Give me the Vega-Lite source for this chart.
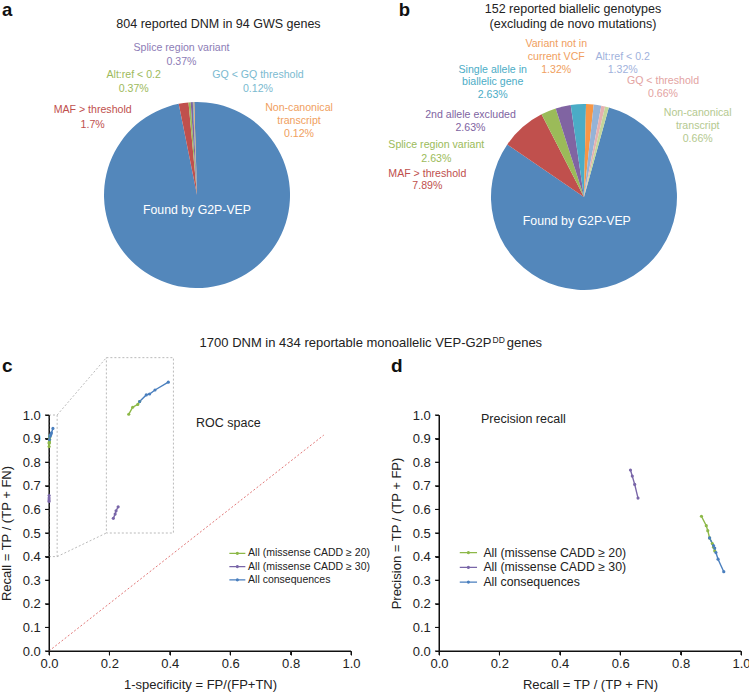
{
"$schema": "https://vega.github.io/schema/vega-lite/v6.json",
"padding": 0,
"bounds": "flush",
"spacing": 0,
"config": {
  "font": "Liberation Sans",
  "view": {"stroke": null},
  "axis": {"labelFontSize": 13, "titleFontSize": 13, "titleFontWeight": "normal", "labelColor": "#222", "titleColor": "#222", "domainColor": "#111", "tickColor": "#111", "tickSize": 4, "grid": false, "labelFlush": false, "labelOverlap": false},
  "axisX": {"labelPadding": 2, "titlePadding": 8.3},
  "axisY": {"labelPadding": 4.7, "titlePadding": 8.5},
  "legend": {"labelColor": "#222"}
},
"resolve": {"scale": {"color": "independent"}, "legend": {"color": "independent"}},
"datasets": {
  "pieA": [
    {"cause": "Found by G2P-VEP", "pct": 97.32},
    {"cause": "MAF > threshold", "pct": 1.7},
    {"cause": "Alt:ref < 0.2", "pct": 0.37},
    {"cause": "Splice region variant", "pct": 0.37},
    {"cause": "GQ < GQ threshold", "pct": 0.12},
    {"cause": "Non-canonical transcript", "pct": 0.12}
  ],
  "pieB": [
    {"cause": "Found by G2P-VEP", "pct": 80.26},
    {"cause": "MAF > threshold", "pct": 7.89},
    {"cause": "Splice region variant", "pct": 2.63},
    {"cause": "2nd allele excluded", "pct": 2.63},
    {"cause": "Single allele in biallelic gene", "pct": 2.63},
    {"cause": "Variant not in current VCF", "pct": 1.32},
    {"cause": "Alt:ref < 0.2", "pct": 1.32},
    {"cause": "GQ < threshold", "pct": 0.66},
    {"cause": "Non-canonical transcript", "pct": 0.66}
  ],
  "xticks": [{"v": 0}, {"v": 0.2}, {"v": 0.4}, {"v": 0.6}, {"v": 0.8}, {"v": 1}],
  "yticks": [{"v": 0}, {"v": 0.1}, {"v": 0.2}, {"v": 0.3}, {"v": 0.4}, {"v": 0.5}, {"v": 0.6}, {"v": 0.7}, {"v": 0.8}, {"v": 0.9}, {"v": 1}],
  "roc": [
    {"series": "All (missense CADD ≥ 20)", "x": 0.0004, "y": 0.866},
    {"series": "All (missense CADD ≥ 20)", "x": 0.0008, "y": 0.880},
    {"series": "All (missense CADD ≥ 20)", "x": 0.0010, "y": 0.885},
    {"series": "All (missense CADD ≥ 20)", "x": 0.0013, "y": 0.890},
    {"series": "All (missense CADD ≥ 20)", "x": 0.0018, "y": 0.896},
    {"series": "All (missense CADD ≥ 20)", "x": 0.0022, "y": 0.905},
    {"series": "All (missense CADD ≥ 20)", "x": 0.0025, "y": 0.909},
    {"series": "All (missense CADD ≥ 20)", "x": 0.0028, "y": 0.913},
    {"series": "All (missense CADD ≥ 30)", "x": 0.0001, "y": 0.634},
    {"series": "All (missense CADD ≥ 30)", "x": 0.0002, "y": 0.640},
    {"series": "All (missense CADD ≥ 30)", "x": 0.0003, "y": 0.648},
    {"series": "All (missense CADD ≥ 30)", "x": 0.0005, "y": 0.659},
    {"series": "All consequences", "x": 0.0015, "y": 0.896},
    {"series": "All consequences", "x": 0.0030, "y": 0.909},
    {"series": "All consequences", "x": 0.0040, "y": 0.913},
    {"series": "All consequences", "x": 0.0060, "y": 0.917},
    {"series": "All consequences", "x": 0.0080, "y": 0.924},
    {"series": "All consequences", "x": 0.0130, "y": 0.943}
  ],
  "rocZoom": [
    {"series": "All (missense CADD ≥ 20)", "x": 0.264, "y": 1.003},
    {"series": "All (missense CADD ≥ 20)", "x": 0.277, "y": 1.033},
    {"series": "All (missense CADD ≥ 20)", "x": 0.294, "y": 1.045},
    {"series": "All (missense CADD ≥ 20)", "x": 0.300, "y": 1.057},
    {"series": "All (missense CADD ≥ 30)", "x": 0.213, "y": 0.562},
    {"series": "All (missense CADD ≥ 30)", "x": 0.219, "y": 0.580},
    {"series": "All (missense CADD ≥ 30)", "x": 0.222, "y": 0.594},
    {"series": "All (missense CADD ≥ 30)", "x": 0.229, "y": 0.611},
    {"series": "All consequences", "x": 0.300, "y": 1.057},
    {"series": "All consequences", "x": 0.322, "y": 1.085},
    {"series": "All consequences", "x": 0.333, "y": 1.089},
    {"series": "All consequences", "x": 0.351, "y": 1.106},
    {"series": "All consequences", "x": 0.395, "y": 1.139}
  ],
  "pr": [
    {"series": "All (missense CADD ≥ 20)", "x": 0.869, "y": 0.571},
    {"series": "All (missense CADD ≥ 20)", "x": 0.885, "y": 0.531},
    {"series": "All (missense CADD ≥ 20)", "x": 0.890, "y": 0.510},
    {"series": "All (missense CADD ≥ 20)", "x": 0.896, "y": 0.479},
    {"series": "All (missense CADD ≥ 20)", "x": 0.905, "y": 0.455},
    {"series": "All (missense CADD ≥ 20)", "x": 0.909, "y": 0.440},
    {"series": "All (missense CADD ≥ 20)", "x": 0.913, "y": 0.424},
    {"series": "All (missense CADD ≥ 30)", "x": 0.634, "y": 0.767},
    {"series": "All (missense CADD ≥ 30)", "x": 0.640, "y": 0.741},
    {"series": "All (missense CADD ≥ 30)", "x": 0.648, "y": 0.706},
    {"series": "All (missense CADD ≥ 30)", "x": 0.659, "y": 0.648},
    {"series": "All consequences", "x": 0.896, "y": 0.479},
    {"series": "All consequences", "x": 0.909, "y": 0.447},
    {"series": "All consequences", "x": 0.913, "y": 0.436},
    {"series": "All consequences", "x": 0.917, "y": 0.417},
    {"series": "All consequences", "x": 0.924, "y": 0.389},
    {"series": "All consequences", "x": 0.943, "y": 0.336}
  ]
},
"vconcat": [
  {
    "width": 692,
    "height": 415,
    "data": {"values": [{}]},
    "resolve": {"scale": {"theta": "independent", "color": "independent"}},
    "layer": [
      {
        "data": {"name": "pieA"},
        "transform": [{"stack": "pct", "groupby": [], "sort": [{"field": "pct", "order": "descending"}], "as": ["t0", "t1"]}],
        "mark": {"type": "arc", "outerRadius": 93},
        "encoding": {
          "theta": {"field": "t0", "type": "quantitative", "scale": {"domain": [0, 100], "range": [-0.03, 6.2532]}},
          "theta2": {"field": "t1"},
          "color": {"field": "cause", "type": "nominal", "legend": null,
            "scale": {"domain": ["Found by G2P-VEP", "MAF > threshold", "Alt:ref < 0.2", "Splice region variant", "GQ < GQ threshold", "Non-canonical transcript"],
                      "range": ["#5387bb", "#c0504d", "#9bbb59", "#8064a2", "#4bacc6", "#f79646"]}},
          "x": {"datum": 21.39, "type": "quantitative", "stack": false, "scale": {"domain": [0, 100]}, "axis": null},
          "y": {"datum": 46.99, "type": "quantitative", "stack": false, "scale": {"domain": [0, 100], "reverse": true}, "axis": null}
        }
      },
      {
        "data": {"name": "pieB"},
        "transform": [{"stack": "pct", "groupby": [], "sort": [{"field": "pct", "order": "descending"}], "as": ["t0", "t1"]}],
        "mark": {"type": "arc", "outerRadius": 93},
        "encoding": {
          "theta": {"field": "t0", "type": "quantitative", "scale": {"domain": [0, 100], "range": [0.2705, 6.5537]}},
          "theta2": {"field": "t1"},
          "color": {"field": "cause", "type": "nominal", "legend": null,
            "scale": {"domain": ["Found by G2P-VEP", "MAF > threshold", "Splice region variant", "2nd allele excluded", "Single allele in biallelic gene", "Variant not in current VCF", "Alt:ref < 0.2", "GQ < threshold", "Non-canonical transcript"],
                      "range": ["#5387bb", "#c0504d", "#9bbb59", "#8064a2", "#4bacc6", "#f79646", "#95b3d7", "#e6b0b0", "#c3d69b"]}},
          "x": {"datum": 77.31, "type": "quantitative", "stack": false, "scale": {"domain": [0, 100]}, "axis": null},
          "y": {"datum": 47.47, "type": "quantitative", "stack": false, "scale": {"domain": [0, 100], "reverse": true}, "axis": null}
        }
      },
      {"mark": {"type": "text", "text": "804 reported DNM in 94 GWS genes", "align": "center", "baseline": "alphabetic", "fontSize": 12.5, "color": "#222"},
       "encoding": {"x": {"datum": 24.49, "type": "quantitative", "scale": {"domain": [0, 100]}, "axis": null}, "y": {"datum": 6.82, "type": "quantitative", "scale": {"domain": [0, 100], "reverse": true}, "axis": null}}},
      {"mark": {"type": "text", "text": ["152 reported biallelic genotypes", "(excluding de novo mutations)"], "lineHeight": 15.5, "align": "center", "baseline": "alphabetic", "fontSize": 12.5, "color": "#222"},
       "encoding": {"x": {"datum": 75.72, "type": "quantitative", "scale": {"domain": [0, 100]}, "axis": null}, "y": {"datum": 3.13, "type": "quantitative", "scale": {"domain": [0, 100], "reverse": true}, "axis": null}}},
      {"mark": {"type": "text", "text": "a", "align": "left", "baseline": "alphabetic", "fontSize": 18.5, "fontWeight": "bold", "color": "#111"},
       "encoding": {"x": {"datum": -6.8, "type": "quantitative", "scale": {"domain": [0, 100]}, "axis": null}, "y": {"datum": 3.9, "type": "quantitative", "scale": {"domain": [0, 100], "reverse": true}, "axis": null}}},
      {"mark": {"type": "text", "text": "b", "align": "left", "baseline": "alphabetic", "fontSize": 18.5, "fontWeight": "bold", "color": "#111"},
       "encoding": {"x": {"datum": 50.53, "type": "quantitative", "scale": {"domain": [0, 100]}, "axis": null}, "y": {"datum": 3.9, "type": "quantitative", "scale": {"domain": [0, 100], "reverse": true}, "axis": null}}},
      {"mark": {"type": "text", "text": "c", "align": "left", "baseline": "alphabetic", "fontSize": 19, "fontWeight": "bold", "color": "#111"},
       "encoding": {"x": {"datum": -6.8, "type": "quantitative", "scale": {"domain": [0, 100]}, "axis": null}, "y": {"datum": 89.57, "type": "quantitative", "scale": {"domain": [0, 100], "reverse": true}, "axis": null}}},
      {"mark": {"type": "text", "text": "d", "align": "left", "baseline": "alphabetic", "fontSize": 19, "fontWeight": "bold", "color": "#111"},
       "encoding": {"x": {"datum": 49.42, "type": "quantitative", "scale": {"domain": [0, 100]}, "axis": null}, "y": {"datum": 89.57, "type": "quantitative", "scale": {"domain": [0, 100], "reverse": true}, "axis": null}}},
      {"mark": {"type": "text", "text": "1700 DNM in 434 reportable monoallelic VEP-G2P", "align": "right", "baseline": "alphabetic", "fontSize": 13, "color": "#222"},
       "encoding": {"x": {"datum": 63.95, "type": "quantitative", "scale": {"domain": [0, 100]}, "axis": null}, "y": {"datum": 83.69, "type": "quantitative", "scale": {"domain": [0, 100], "reverse": true}, "axis": null}}},
      {"mark": {"type": "text", "text": "DD", "align": "left", "baseline": "alphabetic", "fontSize": 8.5, "color": "#222"},
       "encoding": {"x": {"datum": 64.09, "type": "quantitative", "scale": {"domain": [0, 100]}, "axis": null}, "y": {"datum": 82.58, "type": "quantitative", "scale": {"domain": [0, 100], "reverse": true}, "axis": null}}},
      {"mark": {"type": "text", "text": "genes", "align": "left", "baseline": "alphabetic", "fontSize": 13, "color": "#222"},
       "encoding": {"x": {"datum": 66.14, "type": "quantitative", "scale": {"domain": [0, 100]}, "axis": null}, "y": {"datum": 83.69, "type": "quantitative", "scale": {"domain": [0, 100], "reverse": true}, "axis": null}}},
      {"mark": {"type": "text", "text": "Found by G2P-VEP", "align": "center", "baseline": "alphabetic", "fontSize": 12.3, "color": "#ffffff"},
       "encoding": {"x": {"datum": 21.39, "type": "quantitative", "scale": {"domain": [0, 100]}, "axis": null}, "y": {"datum": 51.52, "type": "quantitative", "scale": {"domain": [0, 100], "reverse": true}, "axis": null}}},
      {"mark": {"type": "text", "text": "Found by G2P-VEP", "align": "center", "baseline": "alphabetic", "fontSize": 12.3, "color": "#ffffff"},
       "encoding": {"x": {"datum": 76.27, "type": "quantitative", "scale": {"domain": [0, 100]}, "axis": null}, "y": {"datum": 54.10, "type": "quantitative", "scale": {"domain": [0, 100], "reverse": true}, "axis": null}}},
      {"mark": {"type": "text", "text": ["Splice region variant", "0.37%"], "lineHeight": 14, "align": "center", "baseline": "alphabetic", "fontSize": 10.6, "color": "#8d7cb6"},
       "encoding": {"x": {"datum": 19.15, "type": "quantitative", "scale": {"domain": [0, 100]}, "axis": null}, "y": {"datum": 12.27, "type": "quantitative", "scale": {"domain": [0, 100], "reverse": true}, "axis": null}}},
      {"mark": {"type": "text", "text": ["Alt:ref < 0.2", "0.37%"], "lineHeight": 13.4, "align": "center", "baseline": "alphabetic", "fontSize": 10.6, "color": "#9dba5c"},
       "encoding": {"x": {"datum": 12.24, "type": "quantitative", "scale": {"domain": [0, 100]}, "axis": null}, "y": {"datum": 18.87, "type": "quantitative", "scale": {"domain": [0, 100], "reverse": true}, "axis": null}}},
      {"mark": {"type": "text", "text": ["GQ < GQ threshold", "0.12%"], "lineHeight": 13.8, "align": "center", "baseline": "alphabetic", "fontSize": 10.6, "color": "#7bbad0"},
       "encoding": {"x": {"datum": 30.20, "type": "quantitative", "scale": {"domain": [0, 100]}, "axis": null}, "y": {"datum": 18.75, "type": "quantitative", "scale": {"domain": [0, 100], "reverse": true}, "axis": null}}},
      {"mark": {"type": "text", "text": ["MAF > threshold", "1.7%"], "lineHeight": 15, "align": "center", "baseline": "alphabetic", "fontSize": 10.6, "color": "#c0504d"},
       "encoding": {"x": {"datum": 6.31, "type": "quantitative", "scale": {"domain": [0, 100]}, "axis": null}, "y": {"datum": 27.16, "type": "quantitative", "scale": {"domain": [0, 100], "reverse": true}, "axis": null}}},
      {"mark": {"type": "text", "text": ["Non-canonical", "transcript", "0.12%"], "lineHeight": 12.8, "align": "center", "baseline": "alphabetic", "fontSize": 10.6, "color": "#f0a060"},
       "encoding": {"x": {"datum": 36.13, "type": "quantitative", "scale": {"domain": [0, 100]}, "axis": null}, "y": {"datum": 26.75, "type": "quantitative", "scale": {"domain": [0, 100], "reverse": true}, "axis": null}}},
      {"mark": {"type": "text", "text": ["Variant not in", "current VCF", "1.32%"], "lineHeight": 13, "align": "center", "baseline": "alphabetic", "fontSize": 10.6, "color": "#f0a060"},
       "encoding": {"x": {"datum": 73.3, "type": "quantitative", "scale": {"domain": [0, 100]}, "axis": null}, "y": {"datum": 11.30, "type": "quantitative", "scale": {"domain": [0, 100], "reverse": true}, "axis": null}}},
      {"mark": {"type": "text", "text": ["Alt:ref < 0.2", "1.32%"], "lineHeight": 13.3, "align": "center", "baseline": "alphabetic", "fontSize": 10.6, "color": "#9fb2dc"},
       "encoding": {"x": {"datum": 82.90, "type": "quantitative", "scale": {"domain": [0, 100]}, "axis": null}, "y": {"datum": 14.46, "type": "quantitative", "scale": {"domain": [0, 100], "reverse": true}, "axis": null}}},
      {"mark": {"type": "text", "text": ["Single allele in", "biallelic gene", "2.63%"], "lineHeight": 12.5, "align": "center", "baseline": "alphabetic", "fontSize": 10.6, "color": "#4bacc6"},
       "encoding": {"x": {"datum": 64.12, "type": "quantitative", "scale": {"domain": [0, 100]}, "axis": null}, "y": {"datum": 17.59, "type": "quantitative", "scale": {"domain": [0, 100], "reverse": true}, "axis": null}}},
      {"mark": {"type": "text", "text": ["GQ < threshold", "0.66%"], "lineHeight": 13, "align": "center", "baseline": "alphabetic", "fontSize": 10.6, "color": "#e3a3a2"},
       "encoding": {"x": {"datum": 88.73, "type": "quantitative", "scale": {"domain": [0, 100]}, "axis": null}, "y": {"datum": 20.31, "type": "quantitative", "scale": {"domain": [0, 100], "reverse": true}, "axis": null}}},
      {"mark": {"type": "text", "text": ["2nd allele excluded", "2.63%"], "lineHeight": 13.5, "align": "center", "baseline": "alphabetic", "fontSize": 10.6, "color": "#8064a2"},
       "encoding": {"x": {"datum": 60.91, "type": "quantitative", "scale": {"domain": [0, 100]}, "axis": null}, "y": {"datum": 28.43, "type": "quantitative", "scale": {"domain": [0, 100], "reverse": true}, "axis": null}}},
      {"mark": {"type": "text", "text": ["Non-canonical", "transcript", "0.66%"], "lineHeight": 12.8, "align": "center", "baseline": "alphabetic", "fontSize": 10.6, "color": "#b4c98f"},
       "encoding": {"x": {"datum": 93.74, "type": "quantitative", "scale": {"domain": [0, 100]}, "axis": null}, "y": {"datum": 27.95, "type": "quantitative", "scale": {"domain": [0, 100], "reverse": true}, "axis": null}}},
      {"mark": {"type": "text", "text": ["Splice region variant", "2.63%"], "lineHeight": 13.4, "align": "center", "baseline": "alphabetic", "fontSize": 10.6, "color": "#9bbb59"},
       "encoding": {"x": {"datum": 55.97, "type": "quantitative", "scale": {"domain": [0, 100]}, "axis": null}, "y": {"datum": 35.73, "type": "quantitative", "scale": {"domain": [0, 100], "reverse": true}, "axis": null}}},
      {"mark": {"type": "text", "text": ["MAF > threshold", "7.89%"], "lineHeight": 12.3, "align": "center", "baseline": "alphabetic", "fontSize": 10.6, "color": "#c0504d"},
       "encoding": {"x": {"datum": 54.67, "type": "quantitative", "scale": {"domain": [0, 100]}, "axis": null}, "y": {"datum": 42.58, "type": "quantitative", "scale": {"domain": [0, 100], "reverse": true}, "axis": null}}}
    ]
  },
  {
    "hconcat": [
      {
        "width": 302,
        "height": 236,
        "data": {"values": [{}]},
        "layer": [
          {"mark": {"type": "rect", "filled": false, "stroke": "#a8a8a8", "strokeWidth": 0.8, "strokeDash": [2, 2]},
           "encoding": {"x": {"datum": 0.19, "type": "quantitative", "scale": {"domain": [0, 1]}, "axis": {"title": "1-specificity = FP/(FP+TN)", "values": [0, 0.2, 0.4, 0.6, 0.8, 1], "format": ".1f"}}, "x2": {"datum": 0.412},
                        "y": {"datum": 0.5, "type": "quantitative", "scale": {"domain": [0, 1]}, "axis": {"title": "Recall = TP / (TP + FN)", "values": [0, 0.1, 0.2, 0.3, 0.4, 0.5, 0.6, 0.7, 0.8, 0.9, 1], "format": ".1f"}}, "y2": {"datum": 1.243}}},
          {"mark": {"type": "rect", "filled": false, "stroke": "#a8a8a8", "strokeWidth": 0.8, "strokeDash": [2, 2]},
           "encoding": {"x": {"datum": 0, "type": "quantitative", "scale": {"domain": [0, 1]}, "axis": {"title": "1-specificity = FP/(FP+TN)", "values": [0, 0.2, 0.4, 0.6, 0.8, 1], "format": ".1f"}}, "x2": {"datum": 0.027},
                        "y": {"datum": 0.4, "type": "quantitative", "scale": {"domain": [0, 1]}, "axis": {"title": "Recall = TP / (TP + FN)", "values": [0, 0.1, 0.2, 0.3, 0.4, 0.5, 0.6, 0.7, 0.8, 0.9, 1], "format": ".1f"}}, "y2": {"datum": 1.0}}},
          {"mark": {"type": "rule", "stroke": "#a8a8a8", "strokeWidth": 0.8, "strokeDash": [2, 2]},
           "encoding": {"x": {"datum": 0.027, "type": "quantitative", "scale": {"domain": [0, 1]}, "axis": {"title": "1-specificity = FP/(FP+TN)", "values": [0, 0.2, 0.4, 0.6, 0.8, 1], "format": ".1f"}}, "x2": {"datum": 0.19},
                        "y": {"datum": 1.0, "type": "quantitative", "scale": {"domain": [0, 1]}, "axis": {"title": "Recall = TP / (TP + FN)", "values": [0, 0.1, 0.2, 0.3, 0.4, 0.5, 0.6, 0.7, 0.8, 0.9, 1], "format": ".1f"}}, "y2": {"datum": 1.243}}},
          {"mark": {"type": "rule", "stroke": "#a8a8a8", "strokeWidth": 0.8, "strokeDash": [2, 2]},
           "encoding": {"x": {"datum": 0.027, "type": "quantitative", "scale": {"domain": [0, 1]}, "axis": {"title": "1-specificity = FP/(FP+TN)", "values": [0, 0.2, 0.4, 0.6, 0.8, 1], "format": ".1f"}}, "x2": {"datum": 0.19},
                        "y": {"datum": 0.4, "type": "quantitative", "scale": {"domain": [0, 1]}, "axis": {"title": "Recall = TP / (TP + FN)", "values": [0, 0.1, 0.2, 0.3, 0.4, 0.5, 0.6, 0.7, 0.8, 0.9, 1], "format": ".1f"}}, "y2": {"datum": 0.5}}},
          {"mark": {"type": "rule", "stroke": "#e27a7a", "strokeWidth": 1, "strokeDash": [2, 2]},
           "encoding": {"x": {"datum": 0, "type": "quantitative", "scale": {"domain": [0, 1]}, "axis": {"title": "1-specificity = FP/(FP+TN)", "values": [0, 0.2, 0.4, 0.6, 0.8, 1], "format": ".1f"}}, "x2": {"datum": 0.91},
                        "y": {"datum": 0, "type": "quantitative", "scale": {"domain": [0, 1]}, "axis": {"title": "Recall = TP / (TP + FN)", "values": [0, 0.1, 0.2, 0.3, 0.4, 0.5, 0.6, 0.7, 0.8, 0.9, 1], "format": ".1f"}}, "y2": {"datum": 0.915}}},
          {"mark": {"type": "rule", "stroke": "#111", "strokeWidth": 1},
           "encoding": {"x": {"datum": 0, "type": "quantitative", "scale": {"domain": [0, 1]}, "axis": {"title": "1-specificity = FP/(FP+TN)", "values": [0, 0.2, 0.4, 0.6, 0.8, 1], "format": ".1f"}},
                        "y": {"datum": 0, "type": "quantitative", "scale": {"domain": [0, 1]}, "axis": {"title": "Recall = TP / (TP + FN)", "values": [0, 0.1, 0.2, 0.3, 0.4, 0.5, 0.6, 0.7, 0.8, 0.9, 1], "format": ".1f"}}, "y2": {"datum": 1}}},
          {"mark": {"type": "rule", "stroke": "#111", "strokeWidth": 1},
           "encoding": {"x": {"datum": 0, "type": "quantitative", "scale": {"domain": [0, 1]}, "axis": {"title": "1-specificity = FP/(FP+TN)", "values": [0, 0.2, 0.4, 0.6, 0.8, 1], "format": ".1f"}}, "x2": {"datum": 1},
                        "y": {"datum": 0, "type": "quantitative", "scale": {"domain": [0, 1]}, "axis": {"title": "Recall = TP / (TP + FN)", "values": [0, 0.1, 0.2, 0.3, 0.4, 0.5, 0.6, 0.7, 0.8, 0.9, 1], "format": ".1f"}}}},
          {"data": {"name": "yticks"}, "mark": {"type": "rule", "stroke": "#111", "strokeWidth": 1},
           "encoding": {"x": {"datum": -0.01325, "type": "quantitative", "scale": {"domain": [0, 1]}, "axis": {"title": "1-specificity = FP/(FP+TN)", "values": [0, 0.2, 0.4, 0.6, 0.8, 1], "format": ".1f"}}, "x2": {"datum": 0},
                        "y": {"field": "v", "type": "quantitative", "scale": {"domain": [0, 1]}, "axis": {"title": "Recall = TP / (TP + FN)", "values": [0, 0.1, 0.2, 0.3, 0.4, 0.5, 0.6, 0.7, 0.8, 0.9, 1], "format": ".1f"}}}},
          {"data": {"name": "xticks"}, "mark": {"type": "rule", "stroke": "#111", "strokeWidth": 1},
           "encoding": {"x": {"field": "v", "type": "quantitative", "scale": {"domain": [0, 1]}, "axis": {"title": "1-specificity = FP/(FP+TN)", "values": [0, 0.2, 0.4, 0.6, 0.8, 1], "format": ".1f"}},
                        "y": {"datum": -0.01695, "type": "quantitative", "scale": {"domain": [0, 1]}, "axis": {"title": "Recall = TP / (TP + FN)", "values": [0, 0.1, 0.2, 0.3, 0.4, 0.5, 0.6, 0.7, 0.8, 0.9, 1], "format": ".1f"}}, "y2": {"datum": 0}}},
          {
            "data": {"name": "roc"},
            "mark": {"type": "line", "strokeWidth": 1.4, "point": {"filled": true, "size": 10}},
            "encoding": {
              "x": {"field": "x", "type": "quantitative", "scale": {"domain": [0, 1]},
                    "axis": {"title": "1-specificity = FP/(FP+TN)", "values": [0, 0.2, 0.4, 0.6, 0.8, 1], "format": ".1f"}},
              "y": {"field": "y", "type": "quantitative", "scale": {"domain": [0, 1]},
                    "axis": {"title": "Recall = TP / (TP + FN)", "values": [0, 0.1, 0.2, 0.3, 0.4, 0.5, 0.6, 0.7, 0.8, 0.9, 1], "format": ".1f"}},
              "color": {"field": "series", "type": "nominal",
                        "scale": {"domain": ["All (missense CADD ≥ 20)", "All (missense CADD ≥ 30)", "All consequences"], "range": ["#8db848", "#7966a8", "#4a7fbe"]},
                        "legend": {"orient": "none", "legendX": 180.85, "legendY": 130.8, "title": null,
                                   "symbolType": "M-1.23,0L1.23,0M-0.15,0A0.15,0.15,0,1,0,0.15,0A0.15,0.15,0,1,0,-0.15,0",
                                   "symbolSize": 169, "symbolStrokeWidth": 1.3, "labelFontSize": 10.5, "labelOffset": 3.25, "rowPadding": 0.3, "labelLimit": 300}}
            }
          },
          {
            "data": {"name": "rocZoom"},
            "mark": {"type": "line", "strokeWidth": 1.4, "point": {"filled": true, "size": 10}},
            "encoding": {
              "x": {"field": "x", "type": "quantitative", "scale": {"domain": [0, 1]},
                    "axis": {"title": "1-specificity = FP/(FP+TN)", "values": [0, 0.2, 0.4, 0.6, 0.8, 1], "format": ".1f"}},
              "y": {"field": "y", "type": "quantitative", "scale": {"domain": [0, 1]},
                    "axis": {"title": "Recall = TP / (TP + FN)", "values": [0, 0.1, 0.2, 0.3, 0.4, 0.5, 0.6, 0.7, 0.8, 0.9, 1], "format": ".1f"}},
              "color": {"field": "series", "type": "nominal", "legend": null}
            }
          },
          {"mark": {"type": "text", "text": "ROC space", "align": "left", "baseline": "middle", "fontSize": 12.5, "color": "#222"},
           "encoding": {"x": {"datum": 0.487, "type": "quantitative", "scale": {"domain": [0, 1]}, "axis": {"title": "1-specificity = FP/(FP+TN)", "values": [0, 0.2, 0.4, 0.6, 0.8, 1], "format": ".1f"}},
                        "y": {"datum": 0.965, "type": "quantitative", "scale": {"domain": [0, 1]}, "axis": {"title": "Recall = TP / (TP + FN)", "values": [0, 0.1, 0.2, 0.3, 0.4, 0.5, 0.6, 0.7, 0.8, 0.9, 1], "format": ".1f"}}}}
        ]
      },
      {
        "width": 302,
        "height": 236,
        "data": {"values": [{}]},
        "layer": [
          {"mark": {"type": "rule", "stroke": "#111", "strokeWidth": 1},
           "encoding": {"x": {"datum": 0, "type": "quantitative", "scale": {"domain": [0, 1]}, "axis": {"title": "Recall = TP / (TP + FN)", "values": [0, 0.2, 0.4, 0.6, 0.8, 1], "format": ".1f"}},
                        "y": {"datum": 0, "type": "quantitative", "scale": {"domain": [0, 1]}, "axis": {"title": "Precision = TP / (TP + FP)", "values": [0, 0.1, 0.2, 0.3, 0.4, 0.5, 0.6, 0.7, 0.8, 0.9, 1], "format": ".1f"}}, "y2": {"datum": 1}}},
          {"mark": {"type": "rule", "stroke": "#111", "strokeWidth": 1},
           "encoding": {"x": {"datum": 0, "type": "quantitative", "scale": {"domain": [0, 1]}, "axis": {"title": "Recall = TP / (TP + FN)", "values": [0, 0.2, 0.4, 0.6, 0.8, 1], "format": ".1f"}}, "x2": {"datum": 1},
                        "y": {"datum": 0, "type": "quantitative", "scale": {"domain": [0, 1]}, "axis": {"title": "Precision = TP / (TP + FP)", "values": [0, 0.1, 0.2, 0.3, 0.4, 0.5, 0.6, 0.7, 0.8, 0.9, 1], "format": ".1f"}}}},
          {"data": {"name": "yticks"}, "mark": {"type": "rule", "stroke": "#111", "strokeWidth": 1},
           "encoding": {"x": {"datum": -0.01325, "type": "quantitative", "scale": {"domain": [0, 1]}, "axis": {"title": "Recall = TP / (TP + FN)", "values": [0, 0.2, 0.4, 0.6, 0.8, 1], "format": ".1f"}}, "x2": {"datum": 0},
                        "y": {"field": "v", "type": "quantitative", "scale": {"domain": [0, 1]}, "axis": {"title": "Precision = TP / (TP + FP)", "values": [0, 0.1, 0.2, 0.3, 0.4, 0.5, 0.6, 0.7, 0.8, 0.9, 1], "format": ".1f"}}}},
          {"data": {"name": "xticks"}, "mark": {"type": "rule", "stroke": "#111", "strokeWidth": 1},
           "encoding": {"x": {"field": "v", "type": "quantitative", "scale": {"domain": [0, 1]}, "axis": {"title": "Recall = TP / (TP + FN)", "values": [0, 0.2, 0.4, 0.6, 0.8, 1], "format": ".1f"}},
                        "y": {"datum": -0.01695, "type": "quantitative", "scale": {"domain": [0, 1]}, "axis": {"title": "Precision = TP / (TP + FP)", "values": [0, 0.1, 0.2, 0.3, 0.4, 0.5, 0.6, 0.7, 0.8, 0.9, 1], "format": ".1f"}}, "y2": {"datum": 0}}},
          {
            "data": {"name": "pr"},
            "mark": {"type": "line", "strokeWidth": 1.4, "point": {"filled": true, "size": 10}},
            "encoding": {
              "x": {"field": "x", "type": "quantitative", "scale": {"domain": [0, 1]},
                    "axis": {"title": "Recall = TP / (TP + FN)", "values": [0, 0.2, 0.4, 0.6, 0.8, 1], "format": ".1f"}},
              "y": {"field": "y", "type": "quantitative", "scale": {"domain": [0, 1]},
                    "axis": {"title": "Precision = TP / (TP + FP)", "values": [0, 0.1, 0.2, 0.3, 0.4, 0.5, 0.6, 0.7, 0.8, 0.9, 1], "format": ".1f"}},
              "color": {"field": "series", "type": "nominal",
                        "scale": {"domain": ["All (missense CADD ≥ 20)", "All (missense CADD ≥ 30)", "All consequences"], "range": ["#8db848", "#7966a8", "#4a7fbe"]},
                        "legend": {"orient": "none", "legendX": 21.9, "legendY": 130.2, "title": null,
                                   "symbolType": "M-1.33,0L1.33,0M-0.15,0A0.15,0.15,0,1,0,0.15,0A0.15,0.15,0,1,0,-0.15,0",
                                   "symbolSize": 169, "symbolStrokeWidth": 1.3, "labelFontSize": 12.3, "labelOffset": 7.5, "rowPadding": 0.7, "labelLimit": 300}}
            }
          },
          {"mark": {"type": "text", "text": "Precision recall", "align": "left", "baseline": "middle", "fontSize": 12.5, "color": "#222"},
           "encoding": {"x": {"datum": 0.139, "type": "quantitative", "scale": {"domain": [0, 1]}, "axis": {"title": "Recall = TP / (TP + FN)", "values": [0, 0.2, 0.4, 0.6, 0.8, 1], "format": ".1f"}},
                        "y": {"datum": 0.981, "type": "quantitative", "scale": {"domain": [0, 1]}, "axis": {"title": "Precision = TP / (TP + FP)", "values": [0, 0.1, 0.2, 0.3, 0.4, 0.5, 0.6, 0.7, 0.8, 0.9, 1], "format": ".1f"}}}}
        ]
      }
    ],
    "spacing": 88,
    "bounds": "flush",
    "resolve": {"scale": {"color": "independent"}, "legend": {"color": "independent"}}
  }
]
}
